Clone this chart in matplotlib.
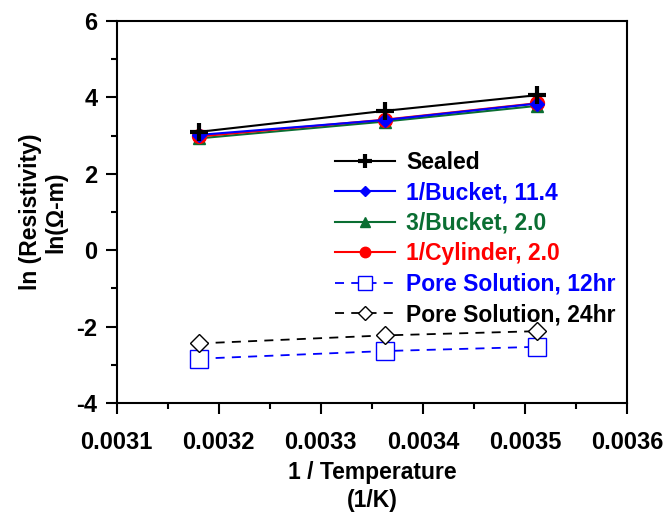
import matplotlib
matplotlib.use("Agg")
import matplotlib.pyplot as plt
from matplotlib.ticker import MultipleLocator, FormatStrFormatter

plt.rcParams["font.family"] = ["Liberation Sans", "DejaVu Sans"]
plt.rcParams["font.weight"] = "bold"
plt.rcParams["axes.unicode_minus"] = False

# 1/T (1/K)
inv_temp = [0.003181, 0.003363, 0.003512]

sealed = [3.10, 3.65, 4.06]
bucket1 = [3.02, 3.41, 3.84]
bucket3 = [2.93, 3.37, 3.78]
cylinder1 = [2.98, 3.42, 3.85]
pore_12hr = [-2.84, -2.64, -2.53]
pore_24hr = [-2.44, -2.23, -2.12]

labels = ["Sealed", "1/Bucket, 11.4", "3/Bucket, 2.0", "1/Cylinder, 2.0",
          "Pore Solution, 12hr", "Pore Solution, 24hr"]
colors = ["black", "#0000ff", "#0a6e32", "#ff0000", "#0000ff", "black"]

fig = plt.figure(figsize=(6.67, 5.14), dpi=100)
ax = fig.add_axes([0.175, 0.216, 0.765, 0.743])

ax.plot(inv_temp, sealed, color=colors[0], lw=1.5, marker="+", ms=13, mew=3, label=labels[0], zorder=6)
ax.plot(inv_temp, bucket3, color=colors[2], lw=1.5, marker="^", ms=9, label=labels[2], zorder=3)
ax.plot(inv_temp, cylinder1, color=colors[3], lw=1.5, marker="o", ms=10, label=labels[3], zorder=4)
ax.plot(inv_temp, bucket1, color=colors[1], lw=1.5, marker="D", ms=7, label=labels[1], zorder=5)
ax.plot(inv_temp, pore_12hr, color=colors[4], lw=1.3, ls=(0, (5, 4)), marker="s", ms=13,
        mfc="white", mew=1.0, label=labels[4])
ax.plot(inv_temp, pore_24hr, color=colors[5], lw=1.3, ls=(0, (5, 4)), marker="D", ms=9,
        mfc="white", mew=1.0, label=labels[5])

ax.set_xlim(0.0031, 0.0036)
ax.set_ylim(-4, 6)
ax.xaxis.set_major_locator(MultipleLocator(0.0001))
ax.xaxis.set_minor_locator(MultipleLocator(0.00005))
ax.xaxis.set_major_formatter(FormatStrFormatter("%.4f"))
ax.yaxis.set_major_locator(MultipleLocator(2))
ax.yaxis.set_minor_locator(MultipleLocator(1))

ax.tick_params(which="major", direction="out", length=8, width=1.5, labelsize=17)
ax.tick_params(axis="x", which="major", pad=12)
ax.tick_params(axis="y", which="major", pad=6)
ax.tick_params(which="minor", direction="out", length=4, width=1.5)
for lbl in ax.get_xticklabels() + ax.get_yticklabels():
    lbl.set_fontweight("bold")
for s in ax.spines.values():
    s.set_linewidth(1.5)

ax.set_xlabel("1 / Temperature\n(1/K)", fontsize=16.5, fontweight="bold", linespacing=1.3, labelpad=5)
ax.set_ylabel("ln (Resistivity)\nln(Ω-m)", fontsize=16.5, fontweight="bold", linespacing=1.15, labelpad=6)

handles, lbls = ax.get_legend_handles_labels()
order = [lbls.index(l) for l in labels]
leg = ax.legend([handles[i] for i in order], [lbls[i] for i in order],
                loc="upper left", bbox_to_anchor=(0.41, 0.685), frameon=False,
                fontsize=16.5, handlelength=2.6, handletextpad=0.5,
                labelspacing=0.33, markerscale=0.75, borderaxespad=0)
for txt, c in zip(leg.get_texts(), colors):
    txt.set_color(c)
    txt.set_fontweight("bold")

plt.savefig("out.png", dpi=100)
